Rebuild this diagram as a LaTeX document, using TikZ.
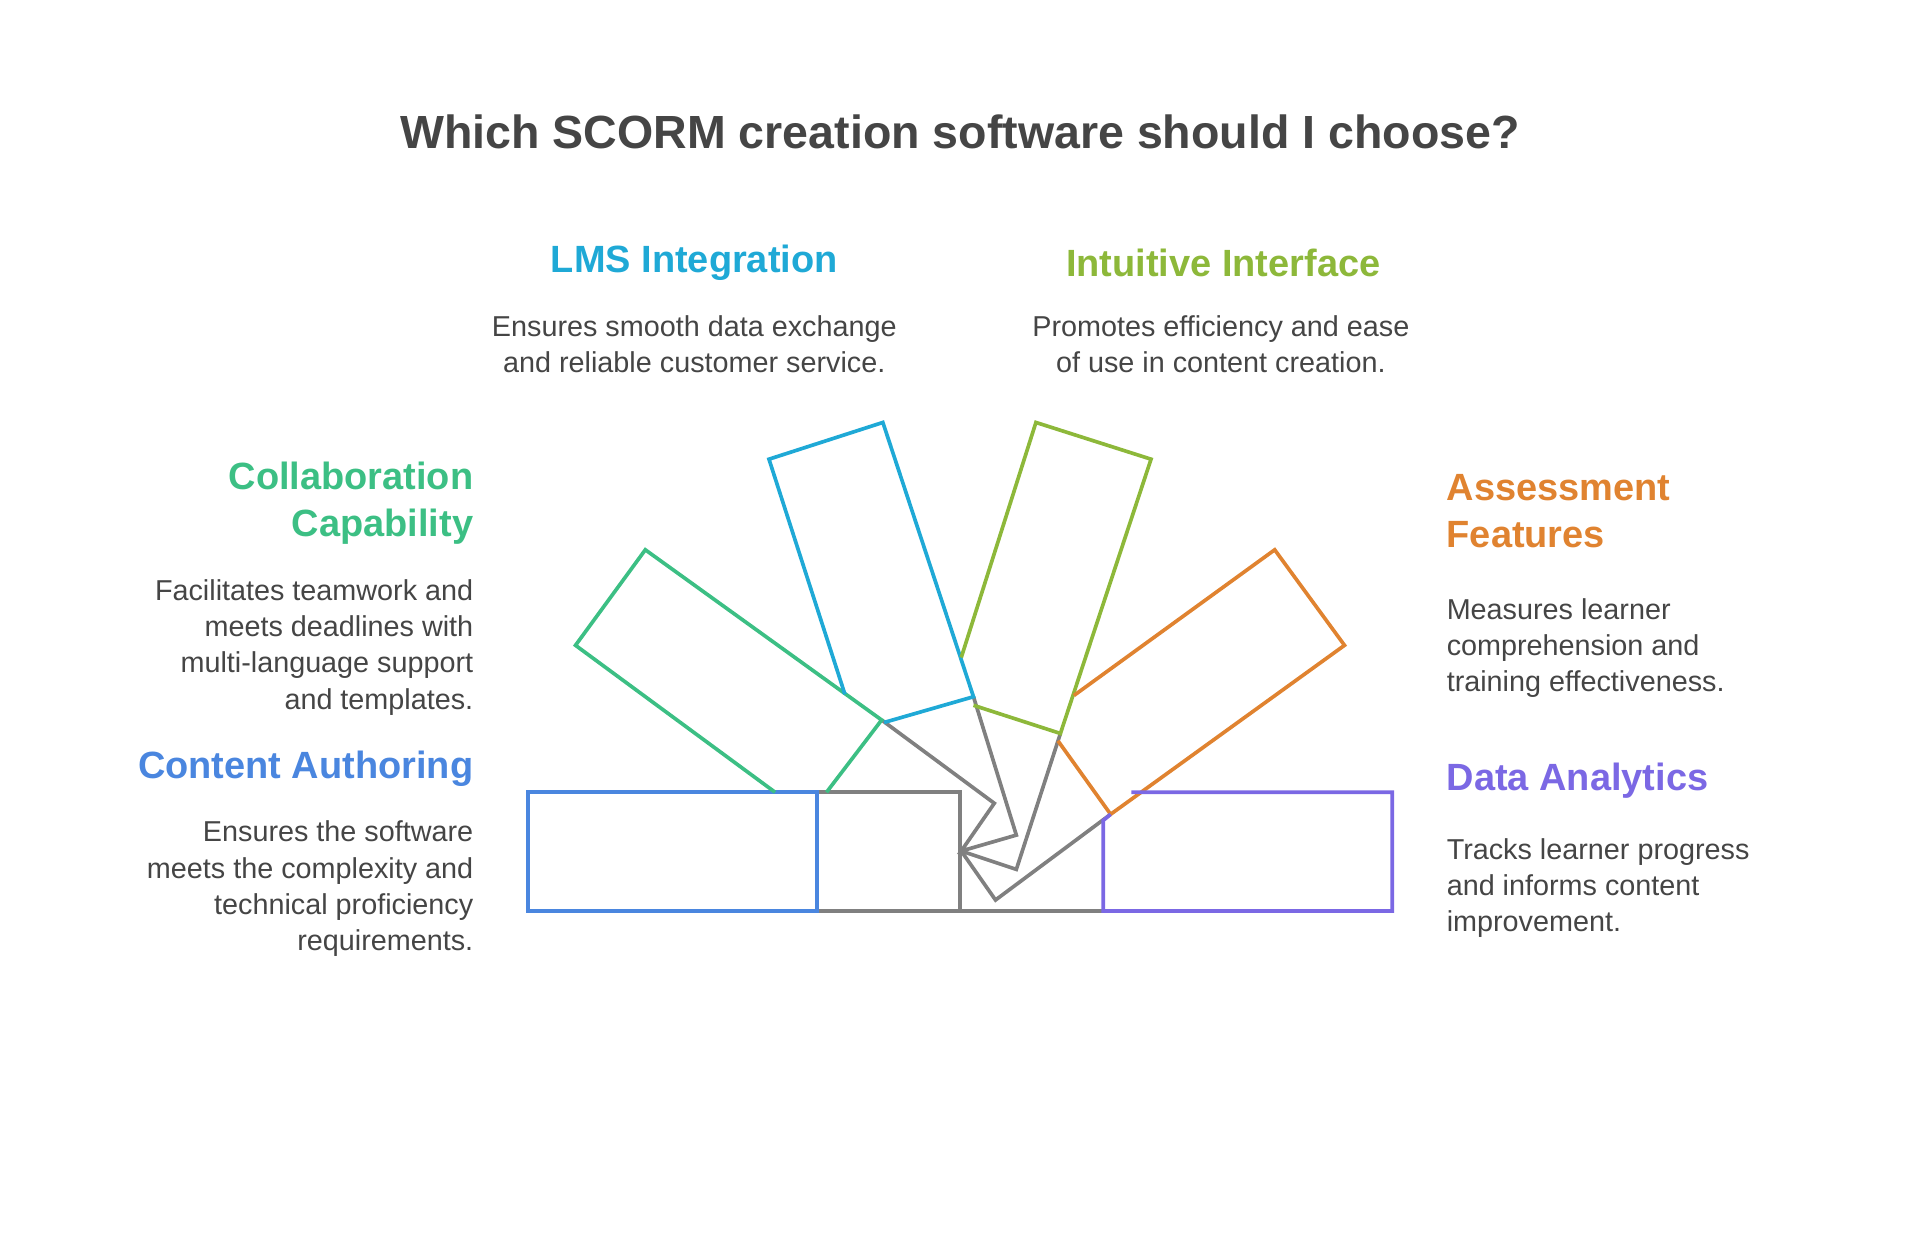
\documentclass[tikz,border=0pt]{standalone}
\usepackage{fontspec}
\setmainfont{Liberation Sans}
\definecolor{cteal}{HTML}{3CBF84}
\definecolor{cblue}{HTML}{4A86DF}
\definecolor{ccyan}{HTML}{1FA9D6}
\definecolor{cgreen}{HTML}{8DB83A}
\definecolor{corange}{HTML}{E08330}
\definecolor{cpurple}{HTML}{7B68E4}
\definecolor{cgray}{HTML}{808080}
\definecolor{ctext}{HTML}{454545}
\begin{document}
\begin{tikzpicture}[x=1pt,y=-1pt,line width=3pt,line join=miter,
  head/.style={font=\fontsize{31}{38.5}\selectfont\bfseries,inner sep=0pt},
  body/.style={font=\fontsize{23.5}{29.5}\selectfont,text=ctext,inner sep=0pt},
  lft/.style={align=right,anchor=north east},
  rgt/.style={align=left,anchor=north west}]
\useasboundingbox (0,0) rectangle (1568,1019);
\node[font=\fontsize{38}{46}\selectfont\bfseries,text=ctext] (title) at (784,108) {Which SCORM creation software should I choose?};
% shapes
\draw[cgray] (667,647) -- (784,647) -- (784,744) -- (667,744);
\draw[cgray] (784,744) -- (901,744);
\draw[cgray] (720,588) -- (812,656) -- (785,695) -- (830,682) -- (795,569);
\draw[cgray] (785,695) -- (830,710) -- (866,599);
\draw[cgray] (785,695) -- (813,735) -- (907,665);
\draw[cgray] (784,647) -- (784,744);
\draw[cblue] (431,647) rectangle (667,744);
\draw[cteal] (633,647) -- (470,527) -- (527,449) -- (720,588) -- (675,647);
\draw[ccyan] (690,567) -- (628,375) -- (721,345) -- (795,569) -- (722,590);
\draw[cgreen] (785,537) -- (846,345) -- (940,375) -- (866,599) -- (795,576);
\draw[corange] (877,568) -- (1041,449) -- (1098,527) -- (907,665) -- (864,605);
\draw[cpurple] (907,665) -- (901,670) -- (901,744) -- (1137,744) -- (1137,647) -- (924,647);
% texts
\node[head,text=ccyan] (lms) at (567,215) {LMS Integration};
\node[body,align=center,anchor=north] (lmsb) at (567,256) {Ensures smooth data exchange\\and reliable customer service.};
\node[head,text=cgreen] (int) at (999,215) {Intuitive Interface};
\node[body,align=center,anchor=north] (intb) at (997,256) {Promotes efficiency and ease\\of use in content creation.};
\node[head,text=cteal,lft] (col) at (388,376) {Collaboration\\Capability};
\node[body,lft] (colb) at (388,472) {Facilitates teamwork and\\meets deadlines with\\multi-language support\\and templates.};
\node[head,text=cblue,lft] (con) at (388,612) {Content Authoring};
\node[body,lft] (conb) at (388,669) {Ensures the software\\meets the complexity and\\technical proficiency\\requirements.};
\node[head,text=corange,rgt] (ass) at (1180,386) {Assessment\\Features};
\node[body,rgt] (assb) at (1180,487) {Measures learner\\comprehension and\\training effectiveness.};
\node[head,text=cpurple,rgt] (dat) at (1180,622) {Data Analytics};
\node[body,rgt] (datb) at (1180,683) {Tracks learner progress\\and informs content\\improvement.};
\end{tikzpicture}
\end{document}
